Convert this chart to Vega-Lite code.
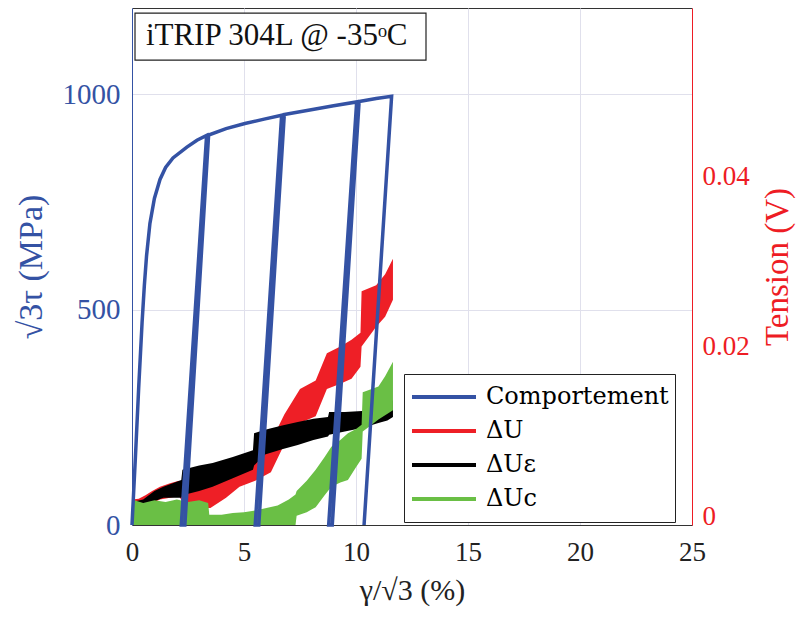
{
  "$schema": "https://vega.github.io/schema/vega-lite/v6.json",
  "width": 560,
  "height": 517,
  "autosize": {"type": "none"},
  "padding": {"left": 132, "top": 8, "right": 107, "bottom": 92},
  "config": {
    "font": "Liberation Serif",
    "view": {"stroke": "#333", "strokeWidth": 1},
    "legend": {"labelFont": "DejaVu Serif", "labelFontSize": 24, "labelLimit": 400}
  },
  "datasets": {
    "bands": [
      {"s": "ΔU", "x": 0, "lo": 0.0011, "hi": 0.0020},
      {"s": "ΔU", "x": 0.3, "lo": 0.0012, "hi": 0.0021},
      {"s": "ΔU", "x": 0.6, "lo": 0.0013, "hi": 0.0025},
      {"s": "ΔU", "x": 0.9, "lo": 0.0016, "hi": 0.0030},
      {"s": "ΔU", "x": 1.25, "lo": 0.0020, "hi": 0.0035},
      {"s": "ΔU", "x": 1.7, "lo": 0.0022, "hi": 0.0039},
      {"s": "ΔU", "x": 2.1, "lo": 0.0024, "hi": 0.0042},
      {"s": "ΔU", "x": 2.3, "lo": 0.0015, "hi": 0.0040},
      {"s": "ΔU", "x": 2.9, "lo": 0.0010, "hi": 0.0030},
      {"s": "ΔU", "x": 3.5, "lo": 0.0010, "hi": 0.0036},
      {"s": "ΔU", "x": 4.2, "lo": 0.0022, "hi": 0.0050},
      {"s": "ΔU", "x": 4.8, "lo": 0.0035, "hi": 0.0063},
      {"s": "ΔU", "x": 5.5, "lo": 0.0042, "hi": 0.0072},
      {"s": "ΔU", "x": 6.2, "lo": 0.0052, "hi": 0.0088},
      {"s": "ΔU", "x": 6.8, "lo": 0.0085, "hi": 0.0120},
      {"s": "ΔU", "x": 7.5, "lo": 0.0110, "hi": 0.0150},
      {"s": "ΔU", "x": 8.2, "lo": 0.0118, "hi": 0.0160},
      {"s": "ΔU", "x": 8.7, "lo": 0.0150, "hi": 0.0192},
      {"s": "ΔU", "x": 9.3, "lo": 0.0156, "hi": 0.0200},
      {"s": "ΔU", "x": 9.8, "lo": 0.0162, "hi": 0.0208},
      {"s": "ΔU", "x": 10.2, "lo": 0.0176, "hi": 0.0216},
      {"s": "ΔU", "x": 10.25, "lo": 0.0200, "hi": 0.0265},
      {"s": "ΔU", "x": 10.9, "lo": 0.0223, "hi": 0.0272},
      {"s": "ΔU", "x": 11.3, "lo": 0.0235, "hi": 0.0285},
      {"s": "ΔU", "x": 11.65, "lo": 0.0255, "hi": 0.0303},
      {"s": "ΔUε", "x": 0, "lo": 0.0012, "hi": 0.0017},
      {"s": "ΔUε", "x": 0.5, "lo": 0.0013, "hi": 0.0020},
      {"s": "ΔUε", "x": 1.0, "lo": 0.0018, "hi": 0.0030},
      {"s": "ΔUε", "x": 1.4, "lo": 0.0022, "hi": 0.0035},
      {"s": "ΔUε", "x": 2.2, "lo": 0.0022, "hi": 0.0043},
      {"s": "ΔUε", "x": 2.25, "lo": 0.0025, "hi": 0.0055},
      {"s": "ΔUε", "x": 3.0, "lo": 0.0030, "hi": 0.0060},
      {"s": "ΔUε", "x": 3.6, "lo": 0.0035, "hi": 0.0063},
      {"s": "ΔUε", "x": 4.5, "lo": 0.0045, "hi": 0.0070},
      {"s": "ΔUε", "x": 5.4, "lo": 0.0055, "hi": 0.0078},
      {"s": "ΔUε", "x": 5.45, "lo": 0.0060, "hi": 0.0098},
      {"s": "ΔUε", "x": 5.94, "lo": 0.0073, "hi": 0.0102},
      {"s": "ΔUε", "x": 6.7, "lo": 0.0079, "hi": 0.0107},
      {"s": "ΔUε", "x": 7.4, "lo": 0.0084, "hi": 0.0111},
      {"s": "ΔUε", "x": 8.1, "lo": 0.0090, "hi": 0.0115},
      {"s": "ΔUε", "x": 8.75, "lo": 0.0094, "hi": 0.0117},
      {"s": "ΔUε", "x": 8.8, "lo": 0.0096, "hi": 0.0123},
      {"s": "ΔUε", "x": 9.5, "lo": 0.0100, "hi": 0.0123},
      {"s": "ΔUε", "x": 10.27, "lo": 0.0104, "hi": 0.0124},
      {"s": "ΔUε", "x": 11.0, "lo": 0.0110, "hi": 0.0128},
      {"s": "ΔUε", "x": 11.4, "lo": 0.0113, "hi": 0.0130},
      {"s": "ΔUε", "x": 11.65, "lo": 0.0117, "hi": 0.0137},
      {"s": "ΔUc", "x": 0, "lo": -0.001, "hi": 0.0020},
      {"s": "ΔUc", "x": 0.5, "lo": -0.001, "hi": 0.0016},
      {"s": "ΔUc", "x": 1.0, "lo": -0.001, "hi": 0.0019},
      {"s": "ΔUc", "x": 1.5, "lo": -0.001, "hi": 0.0017},
      {"s": "ΔUc", "x": 2.0, "lo": -0.001, "hi": 0.0020},
      {"s": "ΔUc", "x": 2.5, "lo": -0.001, "hi": 0.0017},
      {"s": "ΔUc", "x": 3.0, "lo": -0.001, "hi": 0.0019},
      {"s": "ΔUc", "x": 3.4, "lo": -0.001, "hi": 0.0016},
      {"s": "ΔUc", "x": 3.45, "lo": -0.001, "hi": 0.0002},
      {"s": "ΔUc", "x": 4.0, "lo": -0.001, "hi": 0.0002},
      {"s": "ΔUc", "x": 4.5, "lo": -0.001, "hi": 0.0004},
      {"s": "ΔUc", "x": 5.0, "lo": -0.001, "hi": 0.0005},
      {"s": "ΔUc", "x": 5.5, "lo": -0.001, "hi": 0.0007},
      {"s": "ΔUc", "x": 6.0, "lo": -0.001, "hi": 0.0010},
      {"s": "ΔUc", "x": 6.5, "lo": -0.001, "hi": 0.0013},
      {"s": "ΔUc", "x": 7.0, "lo": -0.001, "hi": 0.0020},
      {"s": "ΔUc", "x": 7.3, "lo": -0.001, "hi": 0.0026},
      {"s": "ΔUc", "x": 7.35, "lo": 0.0001, "hi": 0.0030},
      {"s": "ΔUc", "x": 7.8, "lo": 0.0005, "hi": 0.0042},
      {"s": "ΔUc", "x": 8.2, "lo": 0.0011, "hi": 0.0055},
      {"s": "ΔUc", "x": 8.6, "lo": 0.0025, "hi": 0.0070},
      {"s": "ΔUc", "x": 8.9, "lo": 0.0035, "hi": 0.0082},
      {"s": "ΔUc", "x": 9.3, "lo": 0.0040, "hi": 0.0090},
      {"s": "ΔUc", "x": 9.64, "lo": 0.0043, "hi": 0.0098},
      {"s": "ΔUc", "x": 10.0, "lo": 0.0058, "hi": 0.0103},
      {"s": "ΔUc", "x": 10.25, "lo": 0.0068, "hi": 0.0108},
      {"s": "ΔUc", "x": 10.3, "lo": 0.0100, "hi": 0.0146},
      {"s": "ΔUc", "x": 10.7, "lo": 0.0108, "hi": 0.0150},
      {"s": "ΔUc", "x": 11.0, "lo": 0.0114, "hi": 0.0153},
      {"s": "ΔUc", "x": 11.3, "lo": 0.0119, "hi": 0.0165},
      {"s": "ΔUc", "x": 11.65, "lo": 0.0125, "hi": 0.0182}
    ],
    "curve": [
      {"s": "Comportement", "i": 1, "x": 0, "y": 0},
      {"s": "Comportement", "i": 2, "x": 0.15, "y": 155},
      {"s": "Comportement", "i": 3, "x": 0.3, "y": 320},
      {"s": "Comportement", "i": 4, "x": 0.45, "y": 470},
      {"s": "Comportement", "i": 5, "x": 0.55, "y": 555},
      {"s": "Comportement", "i": 6, "x": 0.65, "y": 625},
      {"s": "Comportement", "i": 7, "x": 0.8, "y": 700},
      {"s": "Comportement", "i": 8, "x": 1.0, "y": 758},
      {"s": "Comportement", "i": 9, "x": 1.25, "y": 802},
      {"s": "Comportement", "i": 10, "x": 1.5, "y": 830},
      {"s": "Comportement", "i": 11, "x": 1.83, "y": 852},
      {"s": "Comportement", "i": 12, "x": 2.45, "y": 877},
      {"s": "Comportement", "i": 13, "x": 2.9, "y": 893},
      {"s": "Comportement", "i": 14, "x": 3.33, "y": 904},
      {"s": "Comportement", "i": 15, "x": 2.2, "y": 0},
      {"s": "Comportement", "i": 16, "x": 2.36, "y": 0},
      {"s": "Comportement", "i": 17, "x": 3.42, "y": 905},
      {"s": "Comportement", "i": 18, "x": 4.2, "y": 920},
      {"s": "Comportement", "i": 19, "x": 5.04, "y": 932},
      {"s": "Comportement", "i": 20, "x": 5.9, "y": 942},
      {"s": "Comportement", "i": 21, "x": 6.68, "y": 951},
      {"s": "Comportement", "i": 22, "x": 5.5, "y": 0},
      {"s": "Comportement", "i": 23, "x": 5.66, "y": 0},
      {"s": "Comportement", "i": 24, "x": 6.8, "y": 953},
      {"s": "Comportement", "i": 25, "x": 8.0, "y": 964},
      {"s": "Comportement", "i": 26, "x": 9.0, "y": 973},
      {"s": "Comportement", "i": 27, "x": 10.03, "y": 982},
      {"s": "Comportement", "i": 28, "x": 8.78, "y": 0},
      {"s": "Comportement", "i": 29, "x": 8.94, "y": 0},
      {"s": "Comportement", "i": 30, "x": 10.14, "y": 983},
      {"s": "Comportement", "i": 31, "x": 10.9, "y": 990},
      {"s": "Comportement", "i": 32, "x": 11.59, "y": 995},
      {"s": "Comportement", "i": 33, "x": 10.36, "y": 0}
    ]
  },
  "encoding": {
    "x": {
      "field": "x",
      "type": "quantitative",
      "scale": {"domain": [0, 25], "nice": false},
      "axis": {
        "values": [0, 5, 10, 15, 20, 25],
        "title": "γ/√3 (%)",
        "titleFont": "Liberation Serif",
        "titleFontSize": 30,
        "titleFontWeight": "normal",
        "titleColor": "#222",
        "titlePadding": 10,
        "labelFont": "Liberation Serif",
        "labelFontSize": 27,
        "labelColor": "#222",
        "labelPadding": 14,
        "ticks": false,
        "domainColor": "#333",
        "grid": true,
        "gridColor": "#e0e0ec",
        "labelFlush": false
      }
    }
  },
  "layer": [
    {
      "data": {"name": "bands"},
      "encoding": {
        "y": {
          "field": "lo",
          "type": "quantitative",
          "scale": {"domain": [-0.001, 0.0598], "nice": false, "zero": false},
          "axis": {
            "orient": "right",
            "values": [0, 0.02, 0.04],
            "labelExpr": "datum.value === 0 ? '0' : format(datum.value, '.2f')",
            "title": "Tension (V)",
            "titleAngle": 270,
            "titleBaseline": "top",
            "titleColor": "#ee1c24",
            "titleFont": "Liberation Serif",
            "titleFontSize": 33,
            "titleFontWeight": "normal",
            "titlePadding": 12,
            "labelColor": "#ee1c24",
            "labelFont": "Liberation Serif",
            "labelFontSize": 27,
            "labelPadding": 10,
            "ticks": false,
            "domainColor": "#ee1c24",
            "grid": false
          }
        },
        "y2": {"field": "hi"}
      },
      "layer": [
        {
          "transform": [{"filter": "datum.s === 'ΔU'"}],
          "mark": {"type": "area", "color": "#ee1f26"},
          "encoding": {}
        },
        {
          "transform": [{"filter": "datum.s === 'ΔUε'"}],
          "mark": {"type": "area", "color": "#000000"},
          "encoding": {}
        },
        {
          "transform": [{"filter": "datum.s === 'ΔUc'"}],
          "mark": {"type": "area", "color": "#6abf45"},
          "encoding": {}
        }
      ]
    },
    {
      "encoding": {
        "y": {
          "field": "y",
          "type": "quantitative",
          "scale": {"domain": [0, 1200], "nice": false},
          "axis": {
            "orient": "left",
            "values": [0, 500, 1000],
            "format": "d",
            "title": "√3τ (MPa)",
            "titleColor": "#3452a4",
            "titleFont": "Liberation Serif",
            "titleFontSize": 34,
            "titleFontWeight": "normal",
            "titlePadding": 14,
            "labelColor": "#3452a4",
            "labelFont": "Liberation Serif",
            "labelFontSize": 29,
            "labelPadding": 12,
            "ticks": false,
            "domainColor": "#3452a4",
            "grid": true,
            "gridColor": "#e0e0ec"
          }
        }
      },
      "layer": [
        {
          "data": {"name": "curve"},
          "mark": {"type": "line", "strokeWidth": 3.5},
          "encoding": {
            "order": {"field": "i", "type": "quantitative"},
            "color": {
              "field": "s",
              "type": "nominal",
              "scale": {
                "domain": ["Comportement", "ΔU", "ΔUε", "ΔUc"],
                "range": ["#3452a4", "#ee1f26", "#000000", "#6abf45"]
              },
              "legend": {
                "orient": "none",
                "legendX": 272,
                "legendY": 366,
                "title": null,
                "symbolType": "stroke",
                "symbolSize": 4096,
                "symbolStrokeWidth": 4,
                "clipHeight": 34,
                "labelFont": "DejaVu Serif",
                "labelFontSize": 24,
                "labelLimit": 400,
                "labelColor": "#000",
                "labelOffset": 8,
                "strokeColor": "#222",
                "fillColor": "white",
                "padding": 6,
                "rowPadding": 0
              }
            }
          }
        },
        {
          "data": {"values": [{"x": 0.134, "x2": 13.125, "y": 1079, "y2": 1188}]},
          "mark": {"type": "rect", "fill": "white", "stroke": "#222", "strokeWidth": 1.2},
          "encoding": {"x2": {"field": "x2"}, "y2": {"field": "y2"}}
        },
        {
          "data": {"values": [{"x": 0.62, "y": 1134, "label": "iTRIP 304L @ -35ᵒC"}]},
          "mark": {"type": "text", "align": "left", "baseline": "middle", "font": "Liberation Serif", "fontSize": 31, "color": "#111"},
          "encoding": {"text": {"field": "label"}}
        }
      ]
    }
  ],
  "resolve": {"scale": {"y": "independent"}}
}
